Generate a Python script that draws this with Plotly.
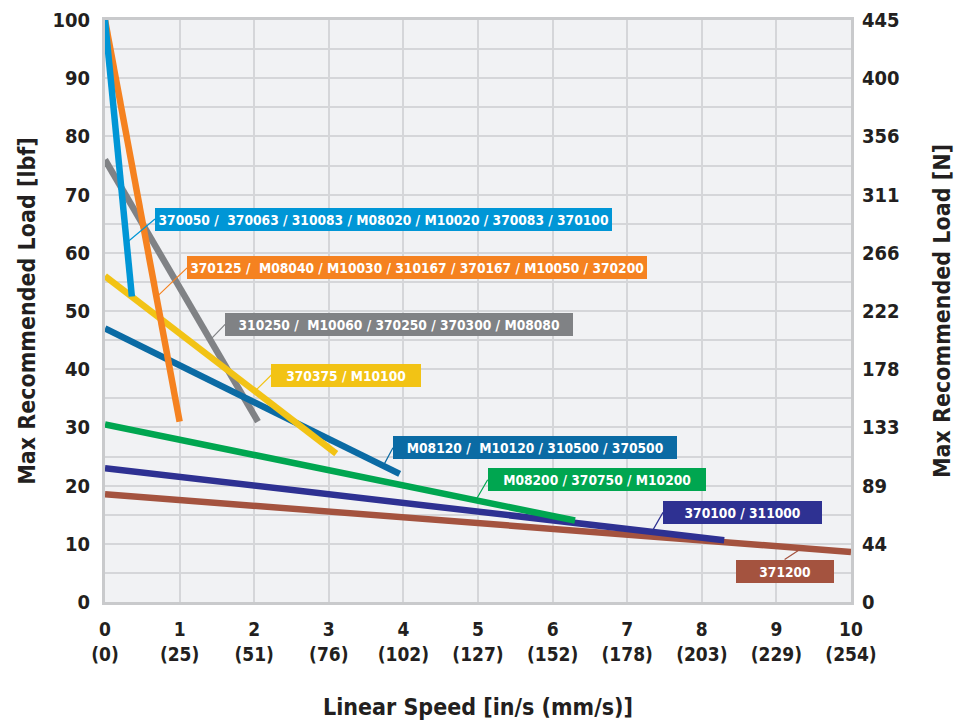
import numpy as np
import plotly.graph_objects as go

# speed (in/s) and max recommended load (lbf) end points for each family
x_370050 = [0, 0.36]
y_370050 = [100, 52.5]
x_370125 = [0, 1.0]
y_370125 = [100, 31]
x_310250 = [0, 2.05]
y_310250 = [76, 31]
x_370375 = [0, 3.1]
y_370375 = [56, 25.5]
x_M08120 = [0, 3.95]
y_M08120 = [47, 22]
x_M08200 = [0, 6.3]
y_M08200 = [30.5, 14]
x_370100 = [0, 8.3]
y_370100 = [23, 10.6]
x_371200 = [0, 10]
y_371200 = [18.5, 8.6]

x_ticks = [0, 1, 2, 3, 4, 5, 6, 7, 8, 9, 10]
mm_ticks = [0, 25, 51, 76, 102, 127, 152, 178, 203, 229, 254]
lbf_ticks = [0, 10, 20, 30, 40, 50, 60, 70, 80, 90, 100]
newton_ticks = [0, 44, 89, 133, 178, 222, 266, 311, 356, 400, 445]

FONT = "DejaVu Sans Condensed, sans-serif"
TXT = "#231f20"

# (label, x, y, color, leader x, box x, box y, box width px, anchor) -- drawn bottom to top
series = [
    ("371200", x_371200, y_371200, "#a4533f", 9.34, 9.11, 7.3, 98, "below"),
    ("370100 / 311000", x_370100, y_370100, "#2e3192", 7.33, 7.48, 15.4, 159, "left"),
    ("M08200 / 370750 / M10200", x_M08200, y_M08200, "#00a650", 4.97, 5.13, 21.0, 218, "left"),
    ("310250 /  M10060 / 370250 / 370300 / M08080", x_310250, y_310250, "#808285", 1.41, 1.61, 47.7, 348, "left"),
    ("M08120 /  M10120 / 310500 / 370500", x_M08120, y_M08120, "#0b6ba4", 3.73, 3.86, 26.5, 284, "left"),
    ("370375 / M10100", x_370375, y_370375, "#f2c315", 2.01, 2.23, 39.0, 150, "left"),
    ("370125 /  M08040 / M10030 / 310167 / 370167 / M10050 / 370200", x_370125, y_370125, "#f58220", 0.69, 1.10, 57.4, 460, "left"),
    ("370050 /  370063 / 310083 / M08020 / M10020 / 370083 / 370100", x_370050, y_370050, "#0096d6", 0.29, 0.67, 65.8, 457, "left"),
]

fig = go.Figure()
annotations = []
for label, xs, ys, color, lx, bx, by, bw, anchor in series:
    fig.add_trace(go.Scatter(x=xs, y=ys, mode="lines", line=dict(color=color, width=6.5),
                             name=label, showlegend=False, hoverinfo="skip"))
    ly = float(np.interp(lx, xs, ys))
    annotations.append(dict(
        x=lx, y=ly, ax=bx, ay=by, axref="x", ayref="y", xref="x", yref="y",
        text="<b>" + label + "</b>", showarrow=True, arrowhead=0, arrowwidth=1.2,
        arrowcolor=color, bgcolor=color, borderpad=1, bordercolor=color, borderwidth=0,
        width=bw - 2, height=21, align="center",
        font=dict(family=FONT, size=13.7, color="white"),
        xanchor="left" if anchor == "left" else "center",
        yanchor="middle" if anchor == "left" else "top",
    ))

# invisible trace so the right-hand newton axis is drawn
fig.add_trace(go.Scatter(x=[0], y=[0], yaxis="y2", mode="markers",
                         marker=dict(opacity=0), showlegend=False, hoverinfo="skip"))

grid = "#d5d6d9"
# page body adds an 8px offset; figure is shrunk so the page does not scroll
fig.update_layout(
    width=956, height=712,
    margin=dict(l=97, r=113, t=12, b=118),
    paper_bgcolor="white", plot_bgcolor="#f1f2f4",
    font=dict(family=FONT, color=TXT),
    annotations=annotations,
    xaxis=dict(
        range=[0, 10], tickvals=x_ticks, automargin=False, ticklabeloverflow="allow",
        ticktext=[f"<b>{a}</b><br><b>({b})</b>" for a, b in zip(x_ticks, mm_ticks)],
        tickfont=dict(size=19, color=TXT), ticklabelstandoff=8,
        showgrid=True, gridcolor=grid, gridwidth=1.5, zeroline=False,
        showline=True, linecolor="#c9cacc", linewidth=3, mirror=True,
        title=dict(text="<b>Linear Speed [in/s (mm/s)]</b>", font=dict(size=23, color=TXT), standoff=39),
    ),
    yaxis=dict(
        range=[0, 100], tickvals=lbf_ticks, ticktext=[f"<b>{v}</b>" for v in lbf_ticks],
        tickfont=dict(size=20, color=TXT), ticklabelstandoff=8, automargin=False,
        ticklabeloverflow="allow",
        showgrid=True, gridcolor=grid, gridwidth=1.5, zeroline=False,
        minor=dict(dtick=5, showgrid=True, gridcolor=grid, gridwidth=1.5),
        showline=True, linecolor="#c9cacc", linewidth=3, mirror=True,
        title=dict(text="<b>Max Recommended Load [lbf]</b>", font=dict(size=23, color=TXT), standoff=11),
    ),
    yaxis2=dict(
        range=[0, 100], overlaying="y", side="right", tickvals=lbf_ticks, automargin=False,
        ticklabeloverflow="allow",
        ticktext=[f"<b>{v}</b>" for v in newton_ticks],
        tickfont=dict(size=20, color=TXT), ticklabelstandoff=10,
        showgrid=False, zeroline=False,
        title=dict(text="<b>Max Recommended Load [N]</b>", font=dict(size=23, color=TXT), standoff=35),
    ),
)

fig.write_html("out.html")
